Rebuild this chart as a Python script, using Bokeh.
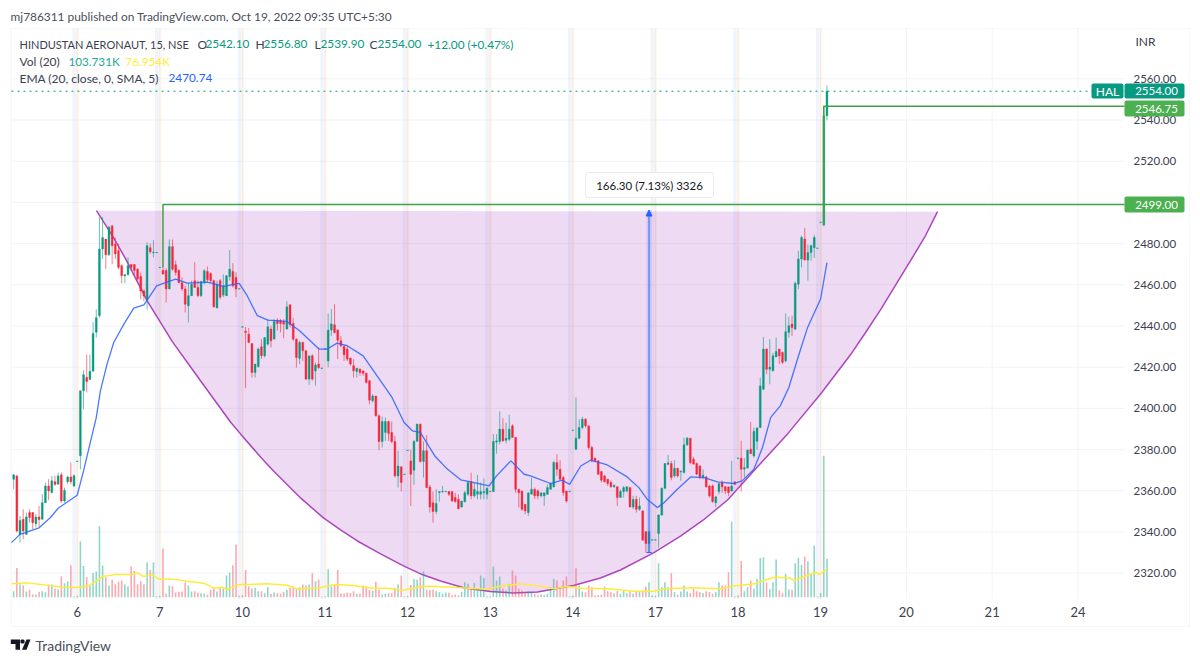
from bokeh.plotting import figure
from bokeh.models import (ColumnDataSource, Range1d, FixedTicker, NumeralTickFormatter,
                          Label, BoxAnnotation, PolyAnnotation, Arrow, NormalHead)
from bokeh.embed import file_html
from bokeh.resources import INLINE

# ---------- candles: 20 bars before Oct 6, then 26 bars per session ----------
opens = [2365.6,2367.2,2338.8,2346.1,2338.8,2349.4,2349.4,2344,2347.3,2346.1,2354.2,2362.3,2359.1,2364.4,2363.1,2367.7,2355,2364.4,2366.7,2362.3,
 2374.2,2377,2408.5,2415,2414,2418,2437,2445,2477.4,2482.2,2474.6,2488.7,2479.8,2476.6,2469.3,2464.4,2465,2469.8,2469.8,2467.6,2464,2457,2453,2478,2475.5,2475.6,
 2468.3,2467,2467,2458,2478.5,2469.7,2467,2461,2458,2449.8,2454.7,2462,2458.7,2454.7,2461,2466.5,2465.5,2462,2448.7,2462,2455,2454.7,2464,2466.5,2463.6,2457.9,
 2439.4,2437.5,2436,2431.5,2417.4,2420.3,2429.9,2425.5,2431.2,2438.5,2433.6,2442.8,2442.8,2442.2,2438.5,2450.3,2441.2,2433.6,2424.3,2432,2428,2414.2,2425.5,2418.2,2421.5,2419.4,
 2428.7,2423,2438,2440.6,2438,2432.8,2430,2428.8,2424.4,2420.7,2417.9,2419,2418.2,2417,2413.4,2403.7,2406,2396.4,2383.9,2388.3,2393.6,2388.3,2383.9,2367.2,2371.6,2367.9,
 2379.5,2374.5,2370,2384,2392.3,2374.2,2379.4,2361.8,2354.2,2349.9,2359.1,2359.5,2359.5,2359.6,2359.6,2356.7,2355.8,2352.1,2354.7,2358.3,2364.4,2357.5,2358.3,2358.3,2359,2358.3,
 2359.5,2359.6,2383.6,2383.9,2389.9,2384.5,2385,2391.5,2385.9,2360.7,2359.9,2353.4,2349.4,2358.3,2360.7,2359.9,2357.5,2357.5,2358.3,2360.7,2361.9,2373.7,2370.4,2366.4,2359.9,2359.5,
 2389.3,2380.2,2385.5,2390.7,2394.7,2391.5,2381,2375.8,2374.5,2369.3,2367.2,2365.6,2364,2361.9,2361.9,2356.7,2359.6,2359.9,2361.5,2352.1,2355.8,2351,2350.2,2340.1,2334.3,2336,
 2336,2339.2,2348.2,2361.2,2372.8,2373.2,2367.2,2370.9,2369.2,2368.8,2382.3,2385.5,2375.3,2373.2,2372,2366.5,2366.7,2362.3,2362.3,2354.2,2359.6,2363.8,2361.9,2361.9,2359.9,2364.3,
 2375.7,2375.8,2370.5,2371,2380.1,2376.9,2384,2390.7,2409.3,2428.8,2419,2418.2,2425,2428.8,2427.1,2423.1,2436.9,2440.9,2438.5,2460.3,2472.5,2482.2,2472,2475.7,2478,2477.7,
 2490.2,2489,2542.1]
highs = [2368,2367.5,2347.7,2351,2349.4,2351,2349.4,2348.6,2352.6,2358.3,2363.9,2365.6,2367.2,2367.2,2368.8,2368.8,2361.5,2367.2,2373.7,2368,
 2374.4,2408.5,2418.5,2426,2426,2442,2448,2492.8,2492.8,2482.2,2488.7,2488.7,2483,2479.8,2470,2465,2473.3,2470,2470,2468,2466,2458,2480.6,2480,2481.7,2475.8,
 2468.5,2469,2468,2482,2482,2471.7,2467.6,2463.6,2459.5,2461,2462,2471,2462,2462,2467.6,2468.8,2466,2462.5,2462,2462.8,2465,2464.6,2476.9,2470.5,2466,2458.1,
 2439.6,2439.5,2439,2431.5,2421.5,2429.6,2433.6,2434.4,2443.3,2440,2443.3,2443.8,2443.3,2443.3,2452,2450.3,2444,2434,2432.8,2432.3,2428,2425.5,2426.3,2422.3,2429.6,2419.6,
 2428.9,2446,2448.2,2450.6,2438.5,2435.2,2430.4,2430.4,2424.7,2423.9,2419.5,2419.5,2418.2,2417.4,2413.7,2406.9,2406,2397,2395.9,2395.5,2394,2393.6,2386.6,2379.4,2372,2368.1,
 2379.7,2380,2384.5,2392.6,2392.6,2384,2387,2362.8,2359.6,2360.7,2359.6,2362.3,2359.7,2359.6,2359.6,2359,2358.3,2355,2359.9,2364.8,2368.8,2364,2367.7,2364,2366,2361.6,
 2359.7,2387.5,2387.5,2398.5,2395.2,2393,2396.8,2392.3,2385.9,2360.7,2359.9,2353.4,2359,2366.4,2361.5,2360.7,2359,2359,2363.1,2364,2374.5,2377.7,2374.8,2367.2,2359.9,2359.7,
 2389.5,2405.3,2394.7,2395.9,2395.2,2391.5,2381.8,2376.1,2374.8,2369.6,2367.7,2365.6,2365,2363.1,2362.3,2360.7,2362.3,2362.3,2361.9,2357.5,2357.5,2356.7,2350.5,2340.5,2340.1,2336.2,
 2336.2,2348.6,2361.5,2373.2,2377.4,2374.5,2374.8,2370.9,2369.6,2385.8,2386.1,2385.5,2376.4,2373.7,2372.5,2370.4,2367.2,2362.8,2363.1,2357.5,2363.5,2365,2362.3,2361.9,2374.5,2364.5,
 2375.9,2384.2,2375.8,2380,2393.4,2390.7,2391,2414.9,2434.7,2429,2433.6,2427,2434.4,2428.8,2427.6,2446.1,2444.5,2445,2461.5,2476.5,2483.8,2487.6,2479.5,2479.5,2484.3,2477.9,
 2490.4,2546.75,2556.8]
lows = [2360.7,2339.7,2334.8,2336.4,2338.8,2344.5,2341.3,2342.1,2342.1,2346.1,2354.2,2355.4,2358.6,2362.3,2363.1,2354.2,2354.2,2363.1,2363.1,2361.8,
 2374.2,2370.4,2399.6,2407.7,2414,2418,2434.4,2444,2472.5,2467.6,2474,2470,2472.5,2467.6,2460.7,2460.7,2464.4,2466.8,2464.5,2462,2453,2452,2448,2475,2473.3,2475.6,
 2468.3,2465,2451.4,2458,2466.8,2464.4,2461,2457,2446.6,2441.7,2454.7,2458.5,2454,2454,2460.3,2461.3,2461,2449,2448.7,2453,2454,2454.7,2462,2458.7,2454,2457.9,
 2439.4,2409.8,2432,2415,2415,2419.8,2424,2424.7,2430.4,2429.6,2433.6,2437.7,2436.9,2434,2438.5,2439.3,2432.8,2419.8,2421.5,2423,2413.7,2411.4,2413.4,2411,2419,2419.4,
 2428.7,2420,2435.2,2436.4,2423.9,2429.6,2423,2423,2420.7,2415,2415,2415.8,2415.8,2412,2402,2402.8,2396,2379.7,2381,2384.2,2384.2,2383,2366.4,2361.5,2359.6,2367.9,
 2379.5,2352.6,2362.8,2383.9,2373.7,2366.4,2361.2,2349.4,2344.5,2348.6,2354.7,2359,2359.5,2357.5,2354.7,2354.2,2351,2351.8,2354.2,2357.5,2355.8,2356.7,2355.8,2355.8,2355.8,2355.8,
 2359.5,2359.6,2378,2382.6,2383.9,2383,2384.2,2385.8,2359,2351.8,2350.2,2348.6,2347.8,2358.3,2355.9,2355.9,2356.7,2352.6,2358,2360.7,2361.5,2367.2,2365.1,2357.5,2354.2,2359.5,
 2389.3,2379.7,2385,2389.9,2390.7,2379.7,2373.7,2373.7,2367.7,2364,2364,2362.3,2361.5,2361.5,2352.6,2356.7,2356.7,2359.1,2351.8,2351,2349.4,2350.2,2335.9,2330,2330,2336,
 2336,2332.4,2347.8,2360.7,2372.4,2365.1,2366.4,2366.4,2364.8,2368.3,2381.8,2372.9,2372.9,2367.7,2365.6,2365.6,2361.5,2356.7,2354.2,2352.1,2358.3,2359,2358.3,2357.5,2359.6,2363,
 2375.7,2359.6,2366.4,2371,2378,2376,2380,2390.4,2408.8,2416.6,2411.7,2418,2425,2421.5,2421.5,2422.3,2434.4,2435.2,2438,2457.9,2468.4,2472,2462,2471.7,2473,2477.7,
 2490.2,2488.5,2539.9]
closes = [2367.7,2340.5,2345.6,2340.5,2347.3,2347,2344.5,2347.3,2346,2354.2,2362.3,2359.9,2364.8,2363.1,2367.2,2355,2360.2,2366.7,2364.4,2367.3,
 2374.4,2408.5,2416.3,2413,2418,2436.4,2444,2477.4,2483,2474.6,2487.9,2479,2475,2468.5,2464.4,2465,2469.3,2468.5,2467,2462.8,2457,2454.5,2479,2476,2475.8,2475.8,
 2468.5,2465.2,2458,2478.5,2467.6,2466,2461,2458,2450.6,2454.7,2460.3,2458.7,2454.7,2461.5,2466.8,2462.5,2462,2449.3,2460.3,2454,2459.5,2464.4,2467.6,2459.5,2458,2458.1,
 2439.6,2436.8,2432,2417.4,2421.5,2428.8,2425.5,2434.4,2439.6,2432.8,2442.2,2441.2,2441.2,2440.9,2449.3,2440.6,2433.6,2424.7,2432,2428,2414.2,2425.5,2414.2,2421.1,2419.8,2419.6,
 2428.9,2438,2441,2436.8,2433.1,2430.4,2426,2423.9,2421.5,2418.2,2419.5,2417.4,2417,2412.6,2404,2406,2396.4,2383.9,2393.6,2393.6,2387.8,2383.9,2367.2,2372,2364,2368.1,
 2379.7,2368,2384,2392.3,2374.2,2379.4,2361.5,2352.1,2349.9,2353.8,2359.6,2359.7,2359.7,2358.3,2355,2354.7,2351.3,2355,2359,2364,2357.5,2360.7,2359.6,2359.6,2359.6,2361.2,
 2359.7,2383.9,2384.2,2389.9,2384.2,2385.5,2389.9,2385.9,2360.7,2359,2351,2350.2,2359,2360.7,2357.5,2357.5,2359,2359,2361.5,2363.5,2373.7,2370.4,2365.6,2359.1,2355,2359.7,
 2389.5,2385.5,2390.7,2394.7,2391.5,2381,2374.5,2374.5,2368,2365.1,2364.4,2363.5,2361.9,2362.6,2356.7,2359.6,2361.5,2361.9,2352.1,2355.8,2351,2352.6,2336,2334.3,2340.1,2336.2,
 2336.2,2348.2,2361.2,2373.2,2373.5,2366.4,2370.9,2367.2,2369.6,2382.3,2385.5,2373.7,2372.9,2368,2366.4,2367.5,2361.9,2357.5,2354.7,2357,2363.5,2361.9,2359.9,2359.1,2362.3,2363.1,
 2375.9,2370.4,2371.2,2379.7,2378,2388.8,2390.4,2410.9,2428.8,2419,2420,2425.5,2427.6,2425.5,2422.3,2437.2,2440.1,2439.3,2460.7,2472.5,2483,2472,2475.7,2479,2483,2477.9,
 2490.4,2542.1,2554]
# volume in thousands
volumes = [16.2,79.2,34.2,31.5,15.3,19.8,7.2,7.2,14.4,16.2,13.5,34.2,34.2,22.5,20.7,55.8,37.8,42.3,86.4,1.8,
 3.6,150.3,84.6,54,31.5,65.7,69.3,191.7,85.5,54,31.5,47.7,35.1,41.4,45,34.2,29.7,82.8,71.1,35.1,43.2,35.1,93.6,73.8,93.6,2.7,
 3.6,131.4,9,31.5,29.7,12.6,14.4,15.3,39.6,31.5,15.3,16.2,11.7,10.8,9,6.3,19.8,27,15.3,27,24.3,58.5,66.6,86.4,142.2,3.6,
 5.4,73.8,29.7,23.4,25.2,16.2,16.2,10.8,27,9,12.6,10.8,9,13.5,19.8,25.2,28.8,22.5,27,34.2,31.5,34.2,64.8,43.2,47.7,1.8,
 1.8,75.6,28.8,32.4,73.8,9.9,9.9,12.6,11.7,16.2,9,9,31.5,28.8,19.8,18,41.4,20.7,7.2,9,10.8,10.8,25.2,34.2,58.5,1.8,
 3.6,32.4,49.5,46.8,54,70.2,20.7,19.8,20.7,16.2,13.5,9,12.6,11.7,5.4,7.2,5.4,14.4,40.5,36,22.5,38.7,22.5,58.5,52.2,1.8,
 1.8,82.8,45,55.8,22.5,18,36,72,58.5,22.5,18,13.5,16.2,12.6,9,5.4,7.2,5.4,9,27,49.5,45,22.5,45,55.8,2.7,
 4.5,78.3,31.5,15.3,13.5,31.5,27,4.5,5.4,7.2,28.8,16.2,13.5,10.8,16.2,9,19.8,10.8,16.2,9,14.4,15.3,18,28.8,40.5,4.5,
 3.6,91.8,27,40.5,27,64.8,13.5,7.2,15.3,31.5,15.3,10.8,22.5,16.2,13.5,10.8,16.2,14.4,9,13.5,40.5,31.5,31.5,67.5,204.3,1.8,
 4.5,97.2,16.2,27,45,22.5,49.5,106.2,108,39.6,22.5,40.5,101.7,18,10.8,63,20.7,19.8,91.8,106.2,87.3,109.8,97.2,63,139.5,1.8,
 10.8,382.5,103.7]
volume_down_bars = [178]

ema_bars = [0.3,3,9,12.6,15,21,23,25,27,28.3,30.4,32.5,35.7,38.8,42,43.6,46,49,52,55.6,62,67,72,74.5,77.7,81,87,91,97.1,99.7,102.8,106,111,115.4,120.1,123.9,126.5,129,133.5,137.5,141.7,144.9,150.6,153,157.5,161.7,163.7,170,173.7,176,179.5,182.6,187.9,194.1,197.8,200.4,203.6,205.7,209.9,214.1,218.3,222.5,227.7,230.3,234,236.7,239.3,242.3,245,248.2,250.9,255,257]
ema_vals = [2334.8,2338.8,2342,2347,2351.5,2357.8,2369.6,2382.6,2395.5,2408.5,2421.5,2432,2440.9,2448.7,2450.3,2453.9,2459.5,2461.2,2462.8,2460.8,2461.3,2459.2,2460.7,2454.7,2445,2442.8,2442.2,2437.7,2428.8,2428.8,2431.7,2430.4,2425.5,2415.8,2405.3,2393.1,2389.1,2388.3,2377,2370.5,2365.3,2364.3,2362.3,2367.2,2374.5,2368,2367.2,2363.5,2365.1,2363.1,2372,2374.8,2372.5,2366.7,2361.5,2355.9,2351.8,2354.2,2360.7,2366.7,2366.4,2364.3,2363.5,2364.8,2370.4,2381,2395.6,2401.2,2410.1,2426.3,2439.3,2453.1,2470.74]

vol_ma_bars = [0.3,5.3,10.5,16.3,21,24.7,27.3,28.9,33,38.3,40,41.8,44.6,46.7,50.4,55.6,60.9,64,66.6,68.2,71.4,80.8,87,90.3,96.6,102.3,108,114.4,119,122.8,127,129,133,141.7,150,154,160.6,166.9,171,175,179.5,187.9,196.3,202.6,205.7,215,223.6,227.2,234,237.2,240.3,245.5,246.6,250.8,253.4,254.7,257]
vol_ma_vals = [36,38.7,33.3,27,26,31.5,45,55.8,61,61,65.7,55.8,61,48.6,49.5,43,37.8,24.3,27,20.7,33.3,36,32.4,22.5,24.3,34.2,31.5,24.3,24.3,18,24.3,28.8,29.7,25.2,21.6,29.7,36,29.7,22.5,28.8,24.3,22.5,16.2,16.2,22.5,25.2,22.5,29.7,36,45,54,52.2,45,58.5,67.5,61.2,76.95]

# cup drawing
cup_bars = [27.07,32.43,36.2,43.03,51,59.81,69.25,72.4,78.7,82.8,91.3,98.5,103.9,109.2,116.5,123.7,129.1,135.4,142.6,151.1,158.4,165.9,177.2,185.7,192,202.4,210.9,218.1,225.7,234.5,244.6,255,264.4,269.1,273.9,283.3,288,291.8]
cup_prices = [2496,2482.9,2472.7,2452.2,2432.3,2413.4,2393.4,2387.6,2376.4,2369.6,2356.5,2346.8,2341,2335.6,2329.3,2323.5,2319.6,2316.2,2312.9,2311.1,2310.3,2310.8,2314,2317.6,2321.5,2329.8,2338,2345.8,2355.5,2370.6,2387.6,2407,2426,2436.7,2447.9,2471.7,2483.8,2495.5]

day_ticks = [21,47,73,99,125,151,177,203,229,255,282,309,336]
day_labels = ["6","7","10","11","12","13","14","17","18","19","20","21","24"]
session_days = day_ticks[:10]
price_ticks = [2320,2340,2360,2380,2400,2420,2440,2460,2480,2500,2520,2540,2560]

last_price = 2554.0
level_high = 2546.75
level_low = 2499.0
measure_low = 2330.0
measure_high = 2496.3

for name, arr, want in (("o",opens,257),("h",highs,257),("l",lows,257),("c",closes,257),("v",volumes,257),
                        ("ema",ema_vals,len(ema_bars)),("ma",vol_ma_vals,len(vol_ma_bars)),("cup",cup_prices,len(cup_bars))):
    if len(arr) != want:
        raise ValueError(f"{name}: {len(arr)} != {want}")

GREEN, RED = "#089981", "#f7253a"
TEXT = "#3c4150"
FONT = "Lato"
PANE_L, PANE_R, PANE_B, PANE_T = 0.32, 350.65, 2307.4, 2584.4

bars = list(range(1, len(opens) + 1))
up = [c >= o for o, c in zip(opens, closes)]
col = [GREEN if u else RED for u in up]
vcol = ["#f7525f" if (not u or b in volume_down_bars) else "#22ab94" for b, u in zip(bars, up)]
src = ColumnDataSource(dict(x=bars, o=opens, h=highs, l=lows, c=closes, v=volumes, col=col, vcol=vcol,
                            top=[max(a, b) for a, b in zip(opens, closes)],
                            bot=[min(a, b) for a, b in zip(opens, closes)]))

p = figure(width=1192, height=656, output_backend="svg", toolbar_location=None,
           x_range=Range1d(-3.142, 372.06), y_range=Range1d(2279.5, 2598.05),
           y_axis_location="right", min_border=0, background_fill_color="white")
p.outline_line_color = None
p.extra_y_ranges = {"vol": Range1d(-160.3, 1612.7)}
p.grid.visible = False

# chart-pane grid
p.segment(x0=PANE_L, x1=PANE_R, y0=price_ticks, y1=price_ticks, line_color="#f0f3fa", line_width=1)
p.segment(x0=day_ticks, x1=day_ticks, y0=PANE_B, y1=PANE_T, line_color="#f0f3fa", line_width=1)

ax = p.xaxis[0]
ax.fixed_location = PANE_B
ax.ticker = FixedTicker(ticks=day_ticks)
ax.major_label_overrides = {t: l for t, l in zip(day_ticks, day_labels)}
ax.axis_line_color = None
ax.major_tick_line_color = None
ax.minor_tick_line_color = None
ax.major_label_text_font = FONT
ax.major_label_text_font_size = "13px"
ax.major_label_text_color = TEXT
ax.major_label_standoff = 2

ay = p.yaxis[0]
ay.fixed_location = PANE_R
ay.ticker = FixedTicker(ticks=price_ticks)
ay.formatter = NumeralTickFormatter(format="0.00")
ay.axis_line_color = None
ay.major_tick_line_color = None
ay.minor_tick_line_color = None
ay.major_label_text_font = FONT
ay.major_label_text_font_size = "11.5px"
ay.major_label_text_color = TEXT
ay.major_label_standoff = 3

# session-break stripes
p.vbar(x=[d - 1 for d in session_days], width=1, bottom=PANE_B, top=PANE_T, fill_color="#2962ff", fill_alpha=0.07, line_color=None)
p.vbar(x=session_days, width=1, bottom=PANE_B, top=PANE_T, fill_color="#ff9800", fill_alpha=0.08, line_color=None)

# cup
p.patch(cup_bars, cup_prices, fill_color="#ab47bc", fill_alpha=0.2, line_color=None)
p.line(cup_bars, cup_prices, line_color="#ab47bc", line_width=1.5)

# volume and its average
p.vbar(x="x", width=0.5, bottom=0, top="v", source=src, fill_color="vcol", fill_alpha=0.5, line_color=None, y_range_name="vol")
p.line(vol_ma_bars, vol_ma_vals, line_color="#ffeb3b", line_width=1.5, y_range_name="vol")

# measure tool
p.quad(left=[200.2], right=[201.8], bottom=[measure_low], top=[measure_high], fill_color="#2962ff", fill_alpha=0.15, line_color=None)
p.segment([200.2], [measure_low], [201.8], [measure_low], line_color="#2962ff", line_width=1)
p.add_layout(Arrow(x_start=201, y_start=measure_low, x_end=201, y_end=measure_high, line_color="#2962ff", line_width=1,
                   end=NormalHead(size=6, fill_color="#2962ff", line_color="#2962ff")))

# candles
p.segment("x", "h", "x", "l", source=src, line_color="col", line_width=1, line_alpha=0.6)
p.vbar(x="x", width=0.58, bottom="bot", top="top", source=src, fill_color="col", line_color="col", line_width=0.4)

# EMA
p.line(ema_bars, ema_vals, line_color="#2962ff", line_width=1.3, line_alpha=0.85)

# last price and level lines
p.line([PANE_L, PANE_R], [last_price, last_price], line_color="#089981", line_dash="dotted", line_width=1)
p.line([48, 48, PANE_R], [2468.5, level_low, level_low], line_color="#43a047", line_width=1.5)
p.line([256, 256, PANE_R], [level_low - 10, level_high, level_high], line_color="#43a047", line_width=1.5)

def txt(x, y, s, color=TEXT, size="12px", align="left", style="normal"):
    p.add_layout(Label(x=x, y=y, x_units="canvas", y_units="canvas", text=s, text_color=color,
                       text_font=FONT, text_font_size=size, text_align=align, text_baseline="middle",
                       text_font_style=style))

def box(l, r, t, b, fill, line=None, radius=2):
    p.add_layout(BoxAnnotation(left=l, right=r, top=t, bottom=b,
                               left_units="canvas", right_units="canvas", top_units="canvas", bottom_units="canvas",
                               fill_color=fill, fill_alpha=1 if fill else 0, line_color=line,
                               line_alpha=1 if line else 0, border_radius=radius, level="annotation"))

# outer border
p.add_layout(BoxAnnotation(left=10.7, right=1189, top=28, bottom=626, left_units="canvas", right_units="canvas",
                           top_units="canvas", bottom_units="canvas", fill_alpha=0, line_color="#e0e3eb", line_width=1.2, level="underlay"))

# measure label
box(585, 713, 172, 197, "white", "#e8eaf0", 3)
txt(649, 184.5, "166.30 (7.13%) 3326", "#131722", "11.5px", "center")

# price tags
box(1091, 1123, 83, 98, "#089981", None, 2)
txt(1107, 90.5, "HAL", "white", "12px", "center")
box(1124, 1184, 83, 98, "#089981", None, 2)
txt(1156, 90.5, "2554.00", "white", "11.5px", "center")
box(1124, 1184, 100, 116, "#4caf50", None, 2)
txt(1156, 108, "2546.75", "white", "11.5px", "center")
box(1124, 1184, 196, 212, "#4caf50", None, 2)
txt(1156, 204, "2499.00", "white", "11.5px", "center")

# header texts
txt(10, 15.5, "mj786311 published on TradingView.com, Oct 19, 2022 09:35 UTC+5:30", "#4a4f5c", "11.9px")
txt(19, 43.5, "HINDUSTAN AERONAUT, 15, NSE", TEXT, "11px")
for lx, ltr, vx, val in ((197, "O", 205, "2542.10"), (255, "H", 263, "2556.80"),
                         (314, "L", 320, "2539.90"), (369, "C", 377, "2554.00")):
    txt(lx, 43.5, ltr)
    txt(vx, 43.5, val, "#089981", "11.8px")
txt(427, 43.5, "+12.00 (+0.47%)", "#089981", "11.8px")
txt(19, 60.5, "Vol (20)")
txt(68, 60.5, "103.731K", "#26a69a", "11.7px")
txt(125, 60.5, "76.954K", "#ffeb3b", "11.7px")
txt(19, 77.5, "EMA (20, close, 0, SMA, 5)")
txt(168, 77.5, "2470.74", "#2962ff", "11.8px")
txt(1135, 41, "INR", TEXT, "12px")
txt(35, 645, "TradingView", "#4a4f5c", "14px")

# TradingView mark
for xs, ys in (([10.3, 19.5, 19.5, 15, 15, 10.3], [639, 639, 649.3, 649.3, 643.5, 643.5]),
               ([26, 30, 26, 21.5], [639, 639, 649.3, 649.3]),
               ([21, 23, 24, 24, 23, 21, 20, 20], [639, 639, 640, 642, 643, 643, 642, 640])):
    p.add_layout(PolyAnnotation(xs=xs, ys=ys, xs_units="canvas", ys_units="canvas",
                                fill_color="#131722", fill_alpha=1, line_color=None))

open("out.html", "w").write(file_html(p, INLINE))
